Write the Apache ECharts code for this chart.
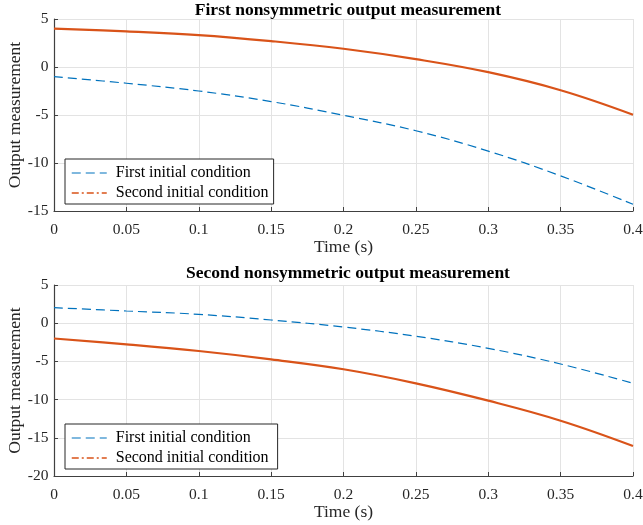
<!DOCTYPE html>
<html><head><meta charset="utf-8">
<script src="https://cdn.jsdelivr.net/npm/echarts@6/dist/echarts.min.js"></script>
<style>html,body{margin:0;padding:0;background:#fff}#c{width:643px;height:525px}</style>
</head><body><div id="c"></div>
<script>
const time = [0, 0.05, 0.1, 0.15, 0.2, 0.25, 0.3, 0.35, 0.4];
const top_first = [-1.0, -1.69, -2.5, -3.6, -5.03, -6.64, -8.76, -11.34, -14.3];
const top_second = [4.0, 3.71, 3.33, 2.7, 1.9, 0.82, -0.54, -2.42, -4.97];
const bot_first = [2.03, 1.6, 1.16, 0.42, -0.5, -1.71, -3.29, -5.34, -7.87];
const bot_second = [-2.0, -2.76, -3.64, -4.73, -6.03, -7.87, -10.14, -12.76, -16.07];
const titles = ['First nonsymmetric output measurement', 'Second nonsymmetric output measurement'];
const seriesNames = ['First initial condition', 'Second initial condition'];
const xLabel = 'Time (s)';
const yLabel = 'Output measurement';

const BLUE = '#0072BD', ORANGE = '#D95319';
const FONT = '"Liberation Serif", "Times New Roman", serif';
const pairs = (xs, ys) => xs.map((x, i) => [x, ys[i]]);

const chart = echarts.init(document.getElementById('c'), null, {renderer: 'canvas'});
const grids = [
  {left: 54, right: 10, top: 19, height: 192, outerBoundsMode: 'none', containLabel: false},
  {left: 54, right: 10, top: 285, height: 191, outerBoundsMode: 'none', containLabel: false}
];
function xAxis(i) {
  return {
    type: 'value', gridIndex: i, min: 0, max: 0.4, interval: 0.05,
    name: xLabel, nameLocation: 'middle', nameGap: 27.5, nameMoveOverlap: false,
    nameTextStyle: {fontFamily: FONT, fontSize: 17.5, color: '#262626'},
    axisLine: {onZero: false, lineStyle: {color: '#404040', width: 1.2}},
    axisTick: {inside: true, length: 4, lineStyle: {color: '#404040'}},
    axisLabel: {fontFamily: FONT, fontSize: 15.5, color: '#262626', margin: 10.5},
    splitLine: {show: true, lineStyle: {color: '#e3e3e3', width: 1}}
  };
}
function yAxis(i, min) {
  return {
    type: 'value', gridIndex: i, min: min, max: 5, interval: 5,
    name: yLabel, nameLocation: 'middle', nameGap: 30, nameMoveOverlap: false,
    nameTextStyle: {fontFamily: FONT, fontSize: 17.5, color: '#262626'},
    axisLine: {show: true, onZero: false, lineStyle: {color: '#404040', width: 1.2}},
    axisTick: {show: true, inside: true, length: 4, lineStyle: {color: '#404040'}},
    axisLabel: {fontFamily: FONT, fontSize: 15.5, color: '#262626', margin: 5.5},
    splitLine: {show: true, lineStyle: {color: '#e3e3e3', width: 1}}
  };
}
function legend(i, top) {
  const sfx = i ? ' ' : '';
  return {
    left: 65, top: top, orient: 'vertical', itemWidth: 35, itemHeight: 14, itemGap: 4,
    padding: [6, 5, 3, 6],
    backgroundColor: '#fff', borderColor: '#262626', borderWidth: 1, borderRadius: 0,
    textStyle: {fontFamily: FONT, fontSize: 16, color: '#000', padding: [0, 0, 0, 4]},
    itemStyle: {opacity: 0},
    data: [
      {name: seriesNames[0] + sfx, itemStyle: {opacity: 0}, lineStyle: {color: BLUE, type: [9, 5], width: 1.2}},
      {name: seriesNames[1] + sfx, itemStyle: {opacity: 0}, lineStyle: {color: ORANGE, type: [7, 3, 2, 3], width: 1.5}}
    ]
  };
}
function line(name, xi, data, color, type, width) {
  return {
    name: name, type: 'line', xAxisIndex: xi, yAxisIndex: xi, data: data,
    smooth: 0.4, showSymbol: false, symbol: 'none', z: 3,
    lineStyle: {color: color, type: type, width: width}, itemStyle: {color: color}
  };
}
chart.setOption({
  animation: false,
  title: [
    {text: titles[0], left: 343, top: -4, textAlign: 'center',
     textStyle: {fontFamily: FONT, fontSize: 17.5, fontWeight: 'bold', color: '#000'}},
    {text: titles[1], left: 343, top: 259.5, textAlign: 'center',
     textStyle: {fontFamily: FONT, fontSize: 17.5, fontWeight: 'bold', color: '#000'}}
  ],
  grid: grids,
  xAxis: [xAxis(0), xAxis(1)],
  yAxis: [yAxis(0, -15), yAxis(1, -20)],
  legend: [legend(0, 159), legend(1, 424)],
  series: [
    line(seriesNames[0], 0, pairs(time, top_first), BLUE, [9, 5], 1.2),
    line(seriesNames[1], 0, pairs(time, top_second), ORANGE, 'solid', 2.2),
    line(seriesNames[0] + ' ', 1, pairs(time, bot_first), BLUE, [9, 5], 1.2),
    line(seriesNames[1] + ' ', 1, pairs(time, bot_second), ORANGE, 'solid', 2.2)
  ]
});
</script></body></html>
